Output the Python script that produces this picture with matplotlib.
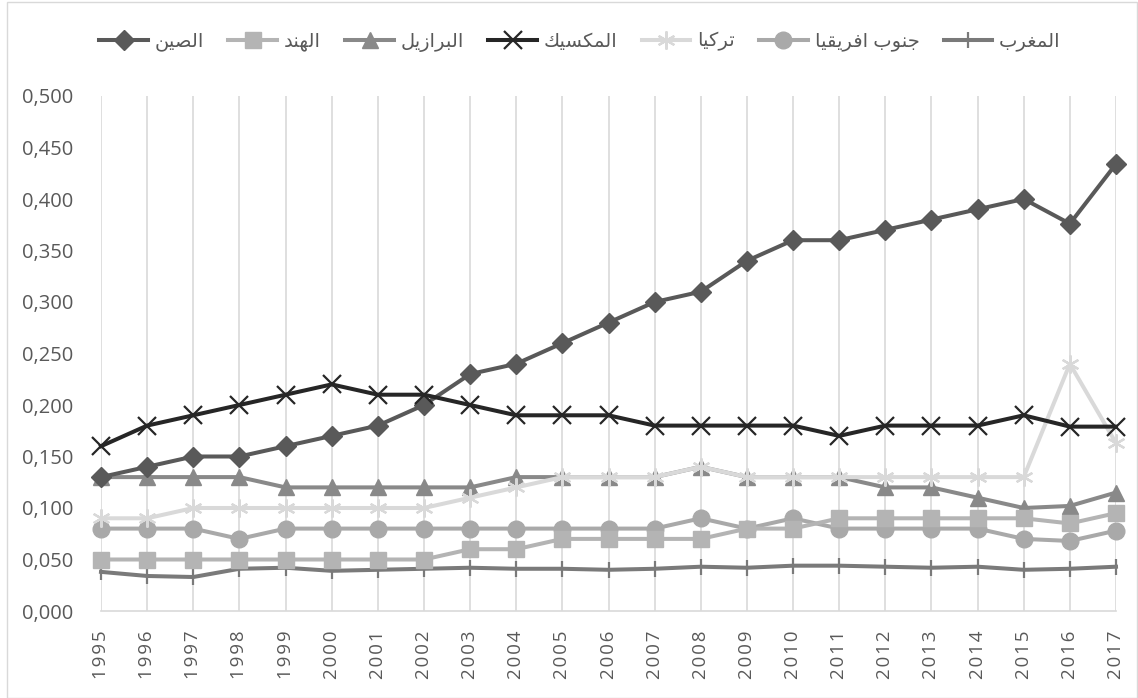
import matplotlib
matplotlib.use("Agg")
import matplotlib.pyplot as plt
from matplotlib.patches import Rectangle

plt.rcParams['font.family'] = ['Open Sans', 'DejaVu Sans']

years = list(range(1995, 2018))

china = [0.13, 0.14, 0.15, 0.15, 0.16, 0.17, 0.18, 0.20, 0.23, 0.24, 0.26, 0.28,
         0.30, 0.31, 0.34, 0.36, 0.36, 0.37, 0.38, 0.39, 0.40, 0.376, 0.434]
india = [0.05, 0.05, 0.05, 0.05, 0.05, 0.05, 0.05, 0.05, 0.06, 0.06, 0.07, 0.07,
         0.07, 0.07, 0.08, 0.08, 0.09, 0.09, 0.09, 0.09, 0.09, 0.085, 0.095]
brazil = [0.13, 0.13, 0.13, 0.13, 0.12, 0.12, 0.12, 0.12, 0.12, 0.13, 0.13, 0.13,
          0.13, 0.14, 0.13, 0.13, 0.13, 0.12, 0.12, 0.11, 0.10, 0.102, 0.115]
mexico = [0.16, 0.18, 0.19, 0.20, 0.21, 0.22, 0.21, 0.21, 0.20, 0.19, 0.19, 0.19,
          0.18, 0.18, 0.18, 0.18, 0.17, 0.18, 0.18, 0.18, 0.19, 0.179, 0.179]
turkey = [0.09, 0.09, 0.10, 0.10, 0.10, 0.10, 0.10, 0.10, 0.11, 0.12, 0.13, 0.13,
          0.13, 0.14, 0.13, 0.13, 0.13, 0.13, 0.13, 0.13, 0.13, 0.240, 0.163]
south_africa = [0.08, 0.08, 0.08, 0.07, 0.08, 0.08, 0.08, 0.08, 0.08, 0.08, 0.08, 0.08,
                0.08, 0.09, 0.08, 0.09, 0.08, 0.08, 0.08, 0.08, 0.07, 0.068, 0.078]
morocco = [0.038, 0.034, 0.033, 0.041, 0.042, 0.039, 0.040, 0.041, 0.042, 0.041, 0.041, 0.040,
           0.041, 0.043, 0.042, 0.044, 0.044, 0.043, 0.042, 0.043, 0.040, 0.041, 0.043]

labels = ["الصين", "الهند", "البرازيل", "المكسيك", "تركيا", "جنوب افريقيا", "المغرب"]
y_ticks = [0.0, 0.05, 0.10, 0.15, 0.20, 0.25, 0.30, 0.35, 0.40, 0.45, 0.50]

# Arabic contextual forms: isolated, final, initial, medial (None = does not join forward)
FORMS = {
    'ا': ('\uFE8D', '\uFE8E', None, None),
    'ب': ('\uFE8F', '\uFE90', '\uFE91', '\uFE92'),
    'ت': ('\uFE95', '\uFE96', '\uFE97', '\uFE98'),
    'ج': ('\uFE9D', '\uFE9E', '\uFE9F', '\uFEA0'),
    'د': ('\uFEA9', '\uFEAA', None, None),
    'ر': ('\uFEAD', '\uFEAE', None, None),
    'ز': ('\uFEAF', '\uFEB0', None, None),
    'س': ('\uFEB1', '\uFEB2', '\uFEB3', '\uFEB4'),
    'ص': ('\uFEB9', '\uFEBA', '\uFEBB', '\uFEBC'),
    'غ': ('\uFECD', '\uFECE', '\uFECF', '\uFED0'),
    'ف': ('\uFED1', '\uFED2', '\uFED3', '\uFED4'),
    'ق': ('\uFED5', '\uFED6', '\uFED7', '\uFED8'),
    'ك': ('\uFED9', '\uFEDA', '\uFEDB', '\uFEDC'),
    'ل': ('\uFEDD', '\uFEDE', '\uFEDF', '\uFEE0'),
    'م': ('\uFEE1', '\uFEE2', '\uFEE3', '\uFEE4'),
    'ن': ('\uFEE5', '\uFEE6', '\uFEE7', '\uFEE8'),
    'ه': ('\uFEE9', '\uFEEA', '\uFEEB', '\uFEEC'),
    'و': ('\uFEED', '\uFEEE', None, None),
    'ي': ('\uFEF1', '\uFEF2', '\uFEF3', '\uFEF4'),
}


def shape_arabic(text):
    out = []
    n = len(text)
    for i, ch in enumerate(text):
        if ch not in FORMS:
            out.append(ch)
            continue
        prev = text[i - 1] if i > 0 else ''
        nxt = text[i + 1] if i + 1 < n else ''
        joins_prev = prev in FORMS and FORMS[prev][2] is not None
        joins_next = nxt in FORMS and FORMS[ch][2] is not None
        iso, fin, ini, med = FORMS[ch]
        if joins_prev and joins_next:
            out.append(med)
        elif joins_prev:
            out.append(fin)
        elif joins_next:
            out.append(ini)
        else:
            out.append(iso)
    return ''.join(out)[::-1]


W, H = 1138, 698
fig = plt.figure(figsize=(W / 100, H / 100), dpi=100)
ax = fig.add_axes([101 / W, 1 - 611 / H, (1116 - 101) / W, (611 - 96) / H])

series = [
    (china, '#595959', 'D', 10, 4, '#595959', 1.0),
    (india, '#b4b4b4', 's', 11.5, 5, '#b4b4b4', 1.0),
    (brazil, '#898989', '^', 11.5, 3, '#898989', 1.0),
    (mexico, '#262626', 'x', 12.5, 6, '#262626', 1.6),
    (turkey, '#d9d9d9', (6, 2, 0), 13, 4, '#d9d9d9', 1.6),
    (south_africa, '#a9a9a9', 'o', 12, 3, '#a9a9a9', 1.0),
    (morocco, '#7a7a7a', '|', 11, 3, '#7a7a7a', 1.6),
]

handles = []
for (vals, col, mk, ms, z, mec, mew), lab in zip(series, labels):
    h, = ax.plot(years, vals, color=col, lw=2.9, marker=mk, markersize=ms,
                 markerfacecolor=col, markeredgecolor=mec, markeredgewidth=mew,
                 zorder=z, clip_on=False, solid_joinstyle='round',
                 label=shape_arabic(lab))
    handles.append(h)

ax.set_xlim(1995, 2017)
ax.set_ylim(0, 0.5)
ax.set_xticks(years)
ax.set_xticklabels(['\u200a'.join(str(y)) for y in years], rotation=90)
ax.set_yticks(y_ticks)
ax.set_yticklabels([f"{v:.3f}".replace('.', ',') for v in y_ticks])
ax.tick_params(axis='both', length=0, labelsize=14.5, colors='#595959')
ax.tick_params(axis='y', pad=20)
ax.tick_params(axis='x', pad=14)
for t in ax.get_xticklabels():
    t.set_fontsize(13.5)
ax.grid(axis='x', color='#d9d9d9', lw=1.2)
ax.grid(axis='y', visible=False)
for s in ['left', 'right', 'top']:
    ax.spines[s].set_visible(False)
ax.spines['bottom'].set_color('#d9d9d9')
ax.spines['bottom'].set_linewidth(1.2)
ax.set_axisbelow(True)

fig.legend(handles=handles, loc='center', bbox_to_anchor=(580 / W, 1 - 42 / H),
           ncol=7, frameon=False, fontsize=14, handlelength=2.5,
           handletextpad=0.35, columnspacing=1.25, labelcolor='#595959')

fig.add_artist(Rectangle((7 / W, 0.5 / H), (W - 8) / W, (H - 2) / H,
                         transform=fig.transFigure, fill=False,
                         edgecolor='#d9d9d9', lw=1))

fig.savefig('out.png', dpi=100)
